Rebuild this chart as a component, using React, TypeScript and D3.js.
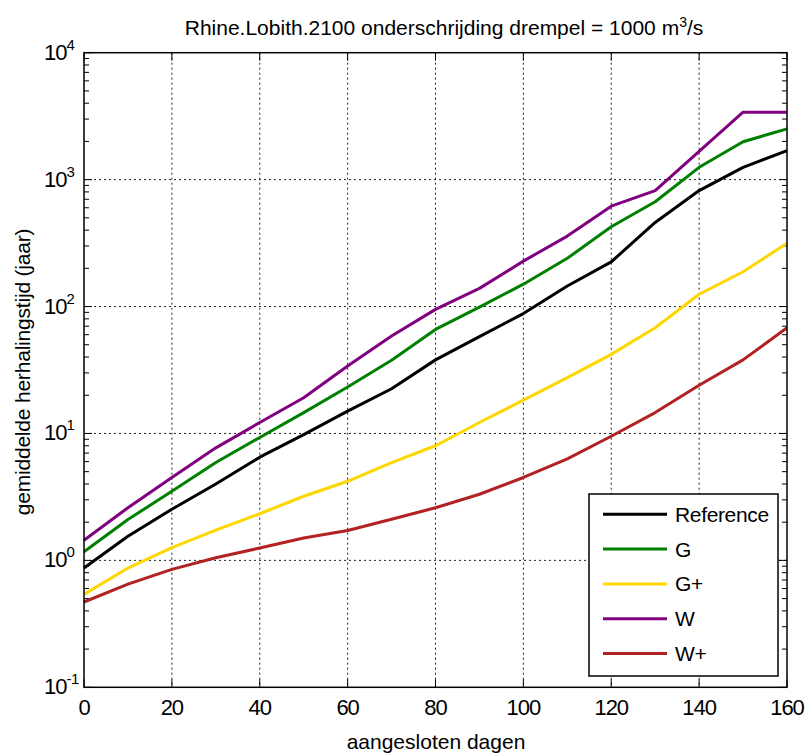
import React from "react";
import * as d3 from "d3";

const days = [0, 10, 20, 30, 40, 50, 60, 70, 80, 90, 100, 110, 120, 130, 140, 150, 160];
const reference = [0.87, 1.55, 2.53, 4.0, 6.5, 9.8, 15.0, 22.5, 38, 58, 88, 145, 225, 460, 820, 1250, 1690];
const seriesG = [1.17, 2.1, 3.5, 5.9, 9.3, 14.6, 23.2, 37.7, 66, 99, 150, 240, 425, 670, 1250, 1990, 2510];
const seriesGPlus = [0.54, 0.87, 1.26, 1.73, 2.33, 3.2, 4.2, 5.9, 8.0, 12.2, 18.3, 27.5, 42, 68, 125, 188, 315];
const seriesW = [1.44, 2.6, 4.5, 7.7, 12.2, 19.1, 34, 58.6, 95, 139, 228, 359, 618, 820, 1670, 3400, 3400];
const seriesWPlus = [0.47, 0.65, 0.85, 1.05, 1.25, 1.5, 1.72, 2.11, 2.6, 3.32, 4.5, 6.3, 9.5, 14.6, 24, 38, 68];

const seriesNames = ["Reference", "G", "G+", "W", "W+"];
const seriesColors = ["#000000", "#008000", "#FFD700", "#800080", "#B22222"];
const seriesValues = [reference, seriesG, seriesGPlus, seriesW, seriesWPlus];

const xTicks = [0, 20, 40, 60, 80, 100, 120, 140, 160];
const yExponents = [-1, 0, 1, 2, 3, 4];

const titleText = "Rhine.Lobith.2100 onderschrijding drempel = 1000 m";
const xLabel = "aangesloten dagen";
const yLabel = "gemiddelde herhalingstijd (jaar)";

const FONT = "'Liberation Sans', Arial, sans-serif";

export default function App() {
  const W = 810, H = 756;
  const left = 84, right = 787, top = 52.7, bottom = 687.3;
  const x = d3.scaleLinear().domain([0, 160]).range([left, right]);
  const y = d3.scaleLog().domain([0.1, 10000]).range([bottom, top]);

  const line = d3
    .line<number>()
    .x((_, i) => x(days[i]))
    .y((d) => y(d));

  const minorTicks: number[] = [];
  for (let e = -1; e < 4; e++) {
    for (let m = 2; m <= 9; m++) minorTicks.push(m * Math.pow(10, e));
  }

  const legX = 589, legY = 494, legW = 189, legH = 182;

  return (
    <svg
      width={W}
      height={H}
      style={{ position: "absolute", left: 0, top: 0, background: "#fff" }}
      fontFamily={FONT}
    >
      <rect x={0} y={0} width={W} height={H} fill="#fff" />
      {/* grid */}
      {xTicks.slice(1, -1).map((t) => (
        <line key={"gx" + t} x1={x(t)} x2={x(t)} y1={top} y2={bottom} stroke="#222" strokeWidth={1} strokeDasharray="2,3" />
      ))}
      {yExponents.slice(1, -1).map((e) => (
        <line key={"gy" + e} x1={left} x2={right} y1={y(Math.pow(10, e))} y2={y(Math.pow(10, e))} stroke="#222" strokeWidth={1} strokeDasharray="2,3" />
      ))}
      {/* ticks */}
      {xTicks.map((t) => (
        <g key={"tx" + t}>
          <line x1={x(t)} x2={x(t)} y1={bottom} y2={bottom - 8} stroke="#000" />
          <line x1={x(t)} x2={x(t)} y1={top} y2={top + 8} stroke="#000" />
        </g>
      ))}
      {yExponents.map((e) => (
        <g key={"ty" + e}>
          <line x1={left} x2={left + 8} y1={y(Math.pow(10, e))} y2={y(Math.pow(10, e))} stroke="#000" />
          <line x1={right} x2={right - 8} y1={y(Math.pow(10, e))} y2={y(Math.pow(10, e))} stroke="#000" />
        </g>
      ))}
      {minorTicks.map((v, i) => (
        <g key={"my" + i}>
          <line x1={left} x2={left + 5} y1={y(v)} y2={y(v)} stroke="#000" />
          <line x1={right} x2={right - 5} y1={y(v)} y2={y(v)} stroke="#000" />
        </g>
      ))}
      {/* data lines */}
      {seriesValues.map((vals, i) => (
        <path key={"s" + i} d={line(vals) || ""} fill="none" stroke={seriesColors[i]} strokeWidth={3} strokeLinejoin="round" />
      ))}
      {/* frame */}
      <rect x={left} y={top} width={right - left} height={bottom - top} fill="none" stroke="#000" strokeWidth={1.5} />
      {/* x tick labels */}
      {xTicks.map((t) => (
        <text key={"lx" + t} x={x(t)} y={715} textAnchor="middle" fontSize={22} letterSpacing={-1}>
          {t}
        </text>
      ))}
      {/* y tick labels */}
      {yExponents.map((e) => (
        <text key={"ly" + e} x={44} y={y(Math.pow(10, e)) + 7} fontSize={22} letterSpacing={-1}>
          10
          <tspan dy={-10} fontSize={15} letterSpacing={-0.5}>{String(e)}</tspan>
        </text>
      ))}
      {/* title */}
      <text x={444} y={35} textAnchor="middle" fontSize={21} letterSpacing={0}>
        {titleText}
        <tspan dy={-8} fontSize={14}>3</tspan>
        <tspan dy={8} fontSize={21}>/s</tspan>
      </text>
      {/* axis labels */}
      <text x={436} y={749} textAnchor="middle" fontSize={21} letterSpacing={0}>
        {xLabel}
      </text>
      <text transform="translate(30,372) rotate(-90)" textAnchor="middle" fontSize={21} letterSpacing={-0.2}>
        {yLabel}
      </text>
      {/* legend */}
      <rect x={legX} y={legY} width={legW} height={legH} fill="#fff" stroke="#000" strokeWidth={1.5} />
      {seriesNames.map((n, i) => {
        const ly = 514.3 + i * 34.8;
        return (
          <g key={"lg" + i}>
            <line x1={603} x2={667} y1={ly} y2={ly} stroke={seriesColors[i]} strokeWidth={3} />
            <text x={675} y={ly + 7.5} fontSize={21} letterSpacing={-0.35}>
              {n}
            </text>
          </g>
        );
      })}
    </svg>
  );
}
